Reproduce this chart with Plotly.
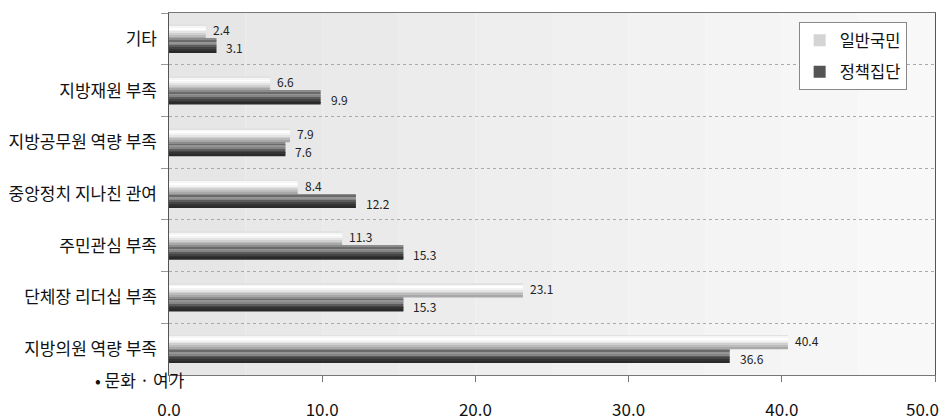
import plotly.graph_objects as go

categories = ["기타", "지방재원 부족", "지방공무원 역량 부족", "중앙정치 지나친 관여",
              "주민관심 부족", "단체장 리더십 부족", "지방의원 역량 부족"]
general_public = [2.4, 6.6, 7.9, 8.4, 11.3, 23.1, 40.4]
policy_group = [3.1, 9.9, 7.6, 12.2, 15.3, 15.3, 36.6]
series_names = ["일반국민", "정책집단"]
x_ticks = [0, 10, 20, 30, 40, 50]

FONT = "Noto Sans CJK KR"
BAR_W = 0.27

light_grad = ["#e2e2e2", "#f6f6f6", "#ffffff", "#f4f4f4", "#e4e4e4", "#d0d0d0", "#bcbcbc", "#a8a8a8"]
dark_grad = ["#8c8c8c", "#6a6a6a", "#959595", "#858585", "#5c5c5c", "#444444", "#333333", "#2a2a2a"]

fig = go.Figure()

def add_series(values, name, grad, base_offset, legend_color):
    k = len(grad)
    sw = BAR_W / k
    for i, c in enumerate(grad):
        fig.add_trace(go.Bar(
            x=values, y=categories, orientation="h",
            offset=base_offset + i * sw, width=sw,
            marker=dict(color=c, line=dict(width=0)),
            showlegend=False, legendgroup=name, hoverinfo="skip",
        ))
    fig.add_trace(go.Bar(
        x=[None], y=[categories[0]], orientation="h", name=name,
        marker=dict(color=legend_color, line=dict(width=0)),
        legendgroup=name, showlegend=True,
    ))

add_series(general_public, series_names[0], light_grad, -BAR_W, "#d4d4d4")
add_series(policy_group, series_names[1], dark_grad, 0.0, "#555555")

annotations = []
for cat, v in zip(categories, general_public):
    annotations.append(dict(x=v, y=cat, text=f"{v:.1f}", showarrow=False,
                            xanchor="left", yanchor="middle", xshift=6, yshift=9,
                            borderpad=0,
                            font=dict(family=FONT, size=12, color="#222")))
for cat, v in zip(categories, policy_group):
    annotations.append(dict(x=v, y=cat, text=f"{v:.1f}", showarrow=False,
                            xanchor="left", yanchor="middle", xshift=9, yshift=-9,
                            borderpad=0,
                            font=dict(family=FONT, size=12, color="#222")))
annotations.append(dict(x=0, y=0, xref="paper", yref="paper", text="• 문화 · 여가",
                        showarrow=False, xanchor="right", yanchor="middle",
                        xshift=18, yshift=-4,
                        font=dict(family=FONT, size=17, color="#111")))
annotations.append(dict(x=x_ticks[-1], y=0, xref="x", yref="paper", text=f"{x_ticks[-1]:.1f}",
                        showarrow=False, xanchor="right", yanchor="middle",
                        xshift=6, yshift=-33,
                        font=dict(family=FONT, size=17, color="#111")))

bg_cols = ["#e6e6e6", "#e8e8e8", "#eaeaea", "#ececec", "#eeeeee", "#f0f0f0",
           "#f2f2f2", "#f4f4f4", "#f6f6f6", "#f8f8f8"]
shapes = []
for i, c in enumerate(bg_cols):
    shapes.append(dict(type="rect", xref="x", yref="paper", x0=i * 5, x1=(i + 1) * 5,
                       y0=0, y1=1, fillcolor=c, line=dict(width=0), layer="below"))

fig.update_layout(
    width=945, height=420,
    margin=dict(l=169, r=10, t=13, b=45, autoexpand=False),
    paper_bgcolor="white", plot_bgcolor="white",
    barmode="overlay",
    font=dict(family=FONT, size=17, color="#111"),
    shapes=shapes,
    annotations=annotations,
    legend=dict(x=0.822, y=0.975, xanchor="left", yanchor="top",
                bgcolor="white", bordercolor="#888", borderwidth=1,
                font=dict(family=FONT, size=16.5, color="#111"),
                itemwidth=30, tracegroupgap=7),
    xaxis=dict(range=[0, 50], tickvals=x_ticks,
               ticktext=[f"{t:.1f}" if t != x_ticks[-1] else "" for t in x_ticks],
               showgrid=False, zeroline=False, ticks="outside", ticklen=6,
               tickcolor="#777", showline=True, linecolor="#777", mirror=True,
               ticklabelstandoff=14, automargin=False,
               tickfont=dict(size=17, color="#111")),
    yaxis=dict(categoryorder="array", categoryarray=categories, autorange="reversed",
               tickson="boundaries", ticks="outside", ticklen=7, tickcolor="#999",
               showgrid=True, gridcolor="#aaa", griddash="dot", gridwidth=1,
               showline=True, linecolor="#555", mirror=True, automargin=False,
               tickfont=dict(size=17, color="#111"), ticksuffix="  "),
)

fig.write_html("out.html")
